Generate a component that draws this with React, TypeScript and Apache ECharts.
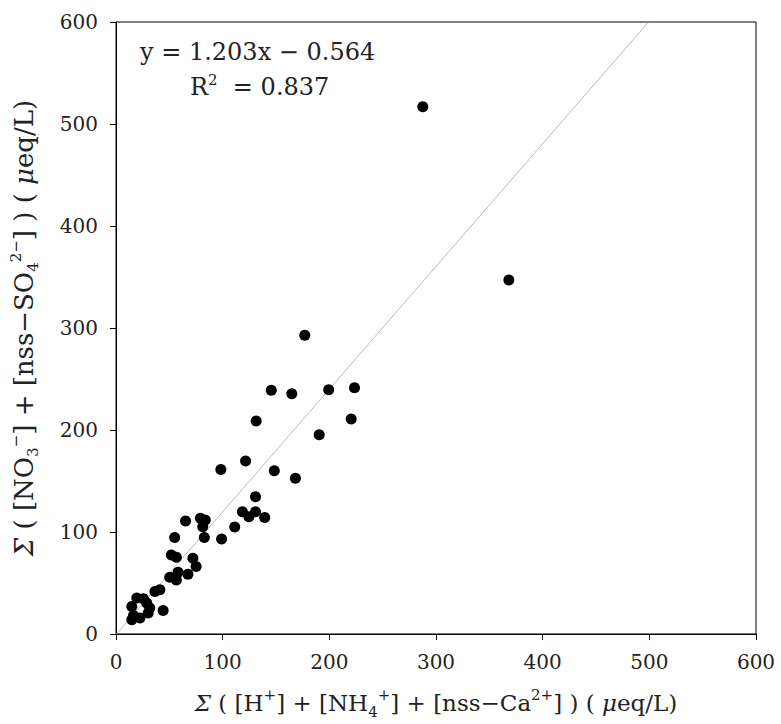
import React, { useEffect, useRef } from "react";
import * as echarts from "echarts";

// Σ([H+]+[NH4+]+[nss-Ca2+]) (μeq/L)
const xValues = [
  287.6, 368.3, 177.0,
  145.6, 164.8, 199.4, 223.6, 131.4, 220.5, 190.5, 121.5, 98.3, 148.4, 168.2,
  130.8, 118.5, 124.6, 130.8, 139.4, 111.3, 65.2, 79.1, 83.7, 81.3, 55.0, 82.8, 99.0,
  51.9, 56.6, 72.1, 75.1, 58.2, 67.4, 50.4,
  56.6, 41.1, 36.5, 44.2,
  19.5, 25.7, 28.8, 14.8, 31.6, 30.2, 16.4, 22.5, 14.8,
];
// Σ([NO3-]+[nss-SO4 2-]) (μeq/L)
const yValues = [
  517, 347, 293,
  239, 235.5, 239.4, 241.4, 208.8, 210.8, 195.4, 169.7, 161.2, 160, 152.8,
  134.6, 119.9, 115, 119.9, 114.3, 104.9, 110.7, 113.4, 111.7, 105.2, 94.5, 94.5, 93.1,
  77.5, 75.2, 74.3, 66.2, 60.6, 58.6, 55.7,
  53, 43.3, 41.7, 23.1,
  35.2, 34.5, 30.3, 27, 25.4, 20.5, 18.2, 15.6, 14,
];
const slope = 1.203;
const intercept = -0.564;
const rSquared = 0.837;
const axisMin = 0;
const axisMax = 600;
const axisStep = 100;

const SERIF = "'DejaVu Serif', 'Liberation Serif', serif";
const TXT = "#222";

export default function App() {
  const ref = useRef<HTMLDivElement>(null);
  useEffect(() => {
    const chart = echarts.init(ref.current!, null, { renderer: "svg" });
    const points = xValues.map((x, i) => [x, yValues[i]]);
    const xStart = -intercept / slope;
    const xEnd = (axisMax - intercept) / slope;
    const trend = [
      [xStart, slope * xStart + intercept],
      [xEnd, slope * xEnd + intercept],
    ];
    const makeRich = (size: number) => {
      const base = { fontFamily: SERIF, fontSize: size, color: TXT, lineHeight: 32 };
      return {
        t: base,
        s: { ...base, fontStyle: "italic" },
        sub: { fontFamily: SERIF, fontSize: 15, color: TXT, lineHeight: 15, verticalAlign: "bottom" },
        sup: { fontFamily: SERIF, fontSize: 15, color: TXT, lineHeight: 15, verticalAlign: "top" },
      };
    };
    const axisCommon = {
      type: "value",
      min: axisMin,
      max: axisMax,
      interval: axisStep,
      splitLine: { show: false },
      axisLine: { show: true, lineStyle: { color: "#000", width: 1 } },
      axisTick: { show: true, inside: false, length: 6, lineStyle: { color: "#000" } },
      nameLocation: "middle",
    };
    chart.setOption({
      animation: false,
      backgroundColor: "#fff",
      grid: {
        left: 109,
        top: 22,
        width: 647,
        height: 614,
        show: true,
        borderColor: "#000",
        borderWidth: 1,
        backgroundColor: "transparent",
      },
      xAxis: {
        ...axisCommon,
        name: "{s|Σ}{t| ( [H}{sup|+}{t|] + [NH}{sub|4}{sup|+}{t|] + [nss−Ca}{sup|2+}{t|] ) ( }{s|μ}{t|eq/L)}",
        nameTextStyle: { rich: makeRich(23) },
        nameGap: 53,
        axisLabel: { fontFamily: SERIF, fontSize: 20, color: TXT, margin: 18 },
      },
      yAxis: {
        ...axisCommon,
        name: "{s|Σ}{t| ( [NO}{sub|3}{sup|−}{t|] + [nss−SO}{sub|4}{sup|2−}{t|] ) ( }{s|μ}{t|eq/L)}",
        nameTextStyle: { rich: makeRich(26) },
        nameRotate: 90,
        nameGap: 76,
        axisLabel: { fontFamily: SERIF, fontSize: 20, color: TXT, margin: 18 },
      },
      graphic: [
        {
          type: "text",
          left: 140,
          top: 40,
          style: {
            text: `y = ${slope.toFixed(3)}x − ${Math.abs(intercept).toFixed(3)}`,
            font: `24px ${SERIF}`,
            fill: TXT,
          },
        },
        {
          type: "text",
          left: 190,
          top: 72,
          style: {
            text: `{t|R}{sup|2}{t|  = ${rSquared.toFixed(3)}}`,
            rich: {
              t: { fontFamily: SERIF, fontSize: 24, fill: TXT, lineHeight: 30 },
              sup: { fontFamily: SERIF, fontSize: 15, fill: TXT, lineHeight: 15, verticalAlign: "top" },
            },
          },
        },
      ],
      series: [
        {
          type: "line",
          data: trend,
          symbol: "none",
          lineStyle: { color: "#aaa", width: 0.8 },
          silent: true,
          z: 1,
        },
        {
          type: "scatter",
          data: points,
          symbol: "circle",
          symbolSize: 11,
          itemStyle: { color: "#000", opacity: 1 },
          z: 3,
        },
      ],
    });
    return () => chart.dispose();
  }, []);
  return (
    <div
      ref={ref}
      style={{ position: "absolute", left: 0, top: 0, width: 781, height: 724, background: "#fff" }}
    />
  );
}
